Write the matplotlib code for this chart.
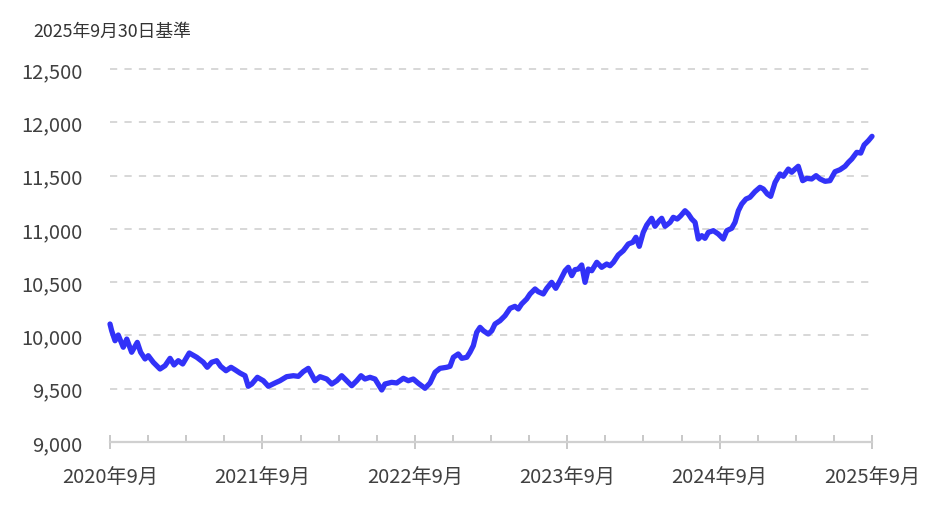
import numpy as np
import matplotlib
matplotlib.use("Agg")
import matplotlib.pyplot as plt
from matplotlib.ticker import FixedLocator, MultipleLocator, FuncFormatter

plt.rcParams['font.family'] = ['Noto Sans CJK JP', 'DejaVu Sans']

# Time axis in fractional years (2020.75 = 2020年9月末)
years = [
    2020.750, 2020.761, 2020.783, 2020.804, 2020.837, 2020.860, 2020.892, 2020.929,
    2020.951, 2020.980, 2021.001, 2021.034, 2021.078, 2021.111, 2021.144, 2021.170,
    2021.198, 2021.227, 2021.270, 2021.319, 2021.362, 2021.388, 2021.417, 2021.450,
    2021.476, 2021.511, 2021.544, 2021.570, 2021.603, 2021.636, 2021.657, 2021.680,
    2021.717, 2021.756, 2021.789,
    2021.833, 2021.865, 2021.909, 2021.953, 2021.986, 2022.018, 2022.051, 2022.095,
    2022.128, 2022.172, 2022.205, 2022.238, 2022.270, 2022.303, 2022.336, 2022.369,
    2022.397, 2022.423, 2022.456, 2022.489, 2022.533, 2022.554, 2022.598, 2022.631,
    2022.675, 2022.707, 2022.740, 2022.773,
    2022.817, 2022.850, 2022.883, 2022.915, 2022.959, 2022.981, 2023.003, 2023.035,
    2023.058, 2023.091, 2023.112, 2023.134, 2023.156, 2023.178, 2023.200, 2023.232,
    2023.255, 2023.276, 2023.309, 2023.342, 2023.375, 2023.407, 2023.429, 2023.451,
    2023.484, 2023.506, 2023.539, 2023.560, 2023.593, 2023.616, 2023.648, 2023.675,
    2023.703, 2023.736, 2023.757, 2023.780, 2023.801,
    2023.823, 2023.845, 2023.867, 2023.888, 2023.911, 2023.944, 2023.976, 2024.009,
    2024.031, 2024.053, 2024.085, 2024.118, 2024.151, 2024.180, 2024.201, 2024.223,
    2024.249, 2024.272, 2024.304, 2024.326, 2024.354, 2024.370, 2024.392, 2024.425,
    2024.446, 2024.472, 2024.495, 2024.523, 2024.545, 2024.567, 2024.589, 2024.610,
    2024.633, 2024.654, 2024.676, 2024.709, 2024.741, 2024.774,
    2024.797, 2024.829, 2024.851, 2024.873, 2024.895, 2024.923, 2024.949, 2024.982,
    2025.015, 2025.037, 2025.063, 2025.085, 2025.114, 2025.146, 2025.168, 2025.201,
    2025.223, 2025.245, 2025.266, 2025.295, 2025.322, 2025.354, 2025.383, 2025.409,
    2025.442, 2025.474, 2025.507, 2025.540, 2025.573, 2025.595, 2025.617, 2025.650,
    2025.676, 2025.698, 2025.726, 2025.750,
]
nav = [
    10107, 10044, 9950, 10004, 9889, 9966, 9842, 9935,
    9842, 9779, 9810, 9748, 9685, 9716, 9785, 9723,
    9763, 9732, 9835, 9795, 9748, 9701, 9748, 9763,
    9710, 9669, 9701, 9678, 9647, 9622, 9523, 9544,
    9607, 9575, 9523,
    9554, 9575, 9613, 9622, 9616, 9660, 9691, 9575,
    9613, 9591, 9544, 9575, 9622, 9575, 9528, 9575,
    9622, 9591, 9607, 9591, 9488, 9544, 9560, 9554,
    9598, 9575, 9591, 9551,
    9504, 9554, 9654, 9691, 9701, 9710, 9795, 9826,
    9785, 9795, 9842, 9904, 10029, 10076, 10044, 10013,
    10044, 10107, 10138, 10185, 10254, 10273, 10248, 10295,
    10342, 10389, 10436, 10410, 10389, 10442, 10498, 10442,
    10514, 10607, 10639, 10561, 10617,
    10623, 10661, 10498, 10623, 10607, 10686, 10639, 10670,
    10654, 10686, 10755, 10795, 10858, 10874, 10921, 10836,
    10967, 11036, 11099, 11024, 11076, 11099, 11024, 11061,
    11108, 11092, 11123, 11170, 11139, 11092, 11061, 10905,
    10936, 10911, 10967, 10983, 10952, 10905,
    10983, 11005, 11061, 11170, 11233, 11280, 11296, 11349,
    11390, 11374, 11327, 11305, 11436, 11515, 11493, 11561,
    11531, 11561, 11587, 11452, 11474, 11468, 11499, 11468,
    11446, 11452, 11536, 11555, 11587, 11624, 11655, 11718,
    11711, 11787, 11827, 11868,
]

tick_years = [2020.75, 2021.75, 2022.75, 2023.75, 2024.75, 2025.75]
tick_labels = ["2020年9月", "2021年9月", "2022年9月", "2023年9月", "2024年9月", "2025年9月"]
y_ticks = [9000, 9500, 10000, 10500, 11000, 11500, 12000, 12500]

fig = plt.figure(figsize=(9.26, 5.06), dpi=100)
ax = fig.add_axes([0.1188, 0.1245, 0.8229, 0.7372])

# Horizontal dashed grid
for yv in y_ticks[1:]:
    ax.axhline(yv, xmin=0, xmax=1.004, color="#d4d4d4", lw=1.3, ls=(0, (4, 4)),
               zorder=1, clip_on=False)

ax.plot(years, nav, color="#3232f8", lw=3.8, solid_joinstyle="round",
        solid_capstyle="round", zorder=3, clip_on=False)

ax.set_xlim(2020.75, 2025.75)
ax.set_ylim(9000, 12500)

for side in ["top", "right", "left"]:
    ax.spines[side].set_visible(False)
ax.spines["bottom"].set_color("#d0d0d0")
ax.spines["bottom"].set_linewidth(1.6)

ax.xaxis.set_major_locator(FixedLocator(tick_years))
ax.xaxis.set_minor_locator(MultipleLocator(0.25))
ax.set_xticklabels(tick_labels)
ax.tick_params(axis="x", which="major", direction="inout", length=10, width=1.4,
               color="#c8c8c8", labelsize=14.5, labelcolor="#404040", pad=13)
ax.tick_params(axis="x", which="minor", direction="in", length=5, width=1.4,
               color="#c8c8c8")

ax.yaxis.set_major_locator(FixedLocator(y_ticks))
ax.yaxis.set_major_formatter(FuncFormatter(lambda v, p: f"{int(v):,}"))
ax.tick_params(axis="y", length=0, labelsize=14.5, labelcolor="#404040", pad=20)

fig.text(0.0356, 0.937, "2025年9月30日基準", fontsize=12.8, color="#333333",
         ha="left", va="center")

fig.savefig("out.png", dpi=100)
